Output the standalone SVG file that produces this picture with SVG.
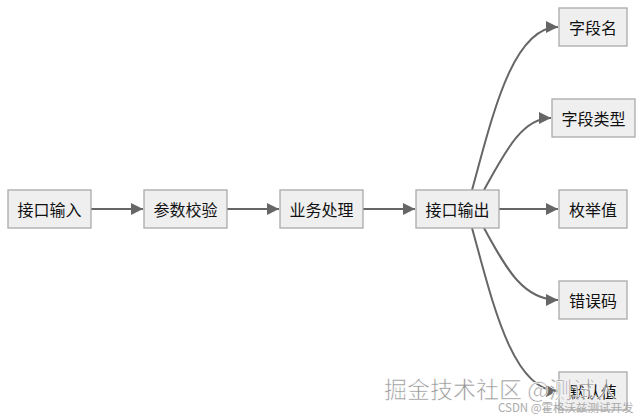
<svg xmlns="http://www.w3.org/2000/svg" width="643" height="417" viewBox="0 0 643 417">
<style>
.node rect{fill:#efefef;stroke:#aaaaaa;stroke-width:1.3}
.node text{font-family:"Noto Sans CJK SC","Liberation Sans",sans-serif;font-size:16px;fill:#111;text-anchor:middle;dominant-baseline:central}
.edge{fill:none;stroke:#666666;stroke-width:2}
.wm{font-family:"Noto Sans CJK SC",sans-serif;}
</style>
<defs>
<marker id="ah" viewBox="0 0 12 12" refX="12" refY="6" markerWidth="12" markerHeight="12" markerUnits="userSpaceOnUse" orient="auto">
<path d="M0,0 L12,6 L0,12 z" fill="#666666"/>
</marker>
</defs>
<g id="connectors">
<path class="edge" d="M91,209 L143,209" marker-end="url(#ah)"/>
<path class="edge" d="M227,209 L279,209" marker-end="url(#ah)"/>
<path class="edge" d="M363,209 L415,209" marker-end="url(#ah)"/>
<path class="edge" d="M499,209 L558,209" marker-end="url(#ah)"/>
<path class="edge" d="M472,190 C492,118 512,27 558,27" marker-end="url(#ah)"/>
<path class="edge" d="M484,190 C505,152 522,118 551,118" marker-end="url(#ah)"/>
<path class="edge" d="M484,228 C505,266 522,300 558,300" marker-end="url(#ah)"/>
<path class="edge" d="M472,228 C492,300 512,391 558,391" marker-end="url(#ah)"/>
</g>
<g id="n1" class="node"><rect x="8" y="190" width="83" height="38"/><text x="49.5" y="209">接口输入</text></g>
<g id="n2" class="node"><rect x="144" y="190" width="83" height="38"/><text x="185.5" y="209">参数校验</text></g>
<g id="n3" class="node"><rect x="280" y="190" width="83" height="38"/><text x="321.5" y="209">业务处理</text></g>
<g id="n4" class="node"><rect x="416" y="190" width="83" height="38"/><text x="457.5" y="209">接口输出</text></g>
<g id="n5" class="node"><rect x="559" y="8" width="68" height="38"/><text x="593" y="27">字段名</text></g>
<g id="n6" class="node"><rect x="552" y="99" width="83" height="38"/><text x="593.5" y="118">字段类型</text></g>
<g id="n7" class="node"><rect x="559" y="190" width="68" height="38"/><text x="593" y="209">枚举值</text></g>
<g id="n8" class="node"><rect x="559" y="281" width="68" height="38"/><text x="593" y="300">错误码</text></g>
<g id="n9" class="node"><rect x="559" y="372" width="68" height="38"/><text x="593" y="391">默认值</text></g>
<g id="watermark">
<text class="wm" x="384" y="398" font-size="23" fill="#777" fill-opacity="0.8" stroke="#ffffff" stroke-width="0.6">掘金技术社区 @测试人</text>
<text class="wm" x="498" y="412" font-size="11.5" fill="#aaa">CSDN @霍格沃兹测试开发</text>
</g>
</svg>
